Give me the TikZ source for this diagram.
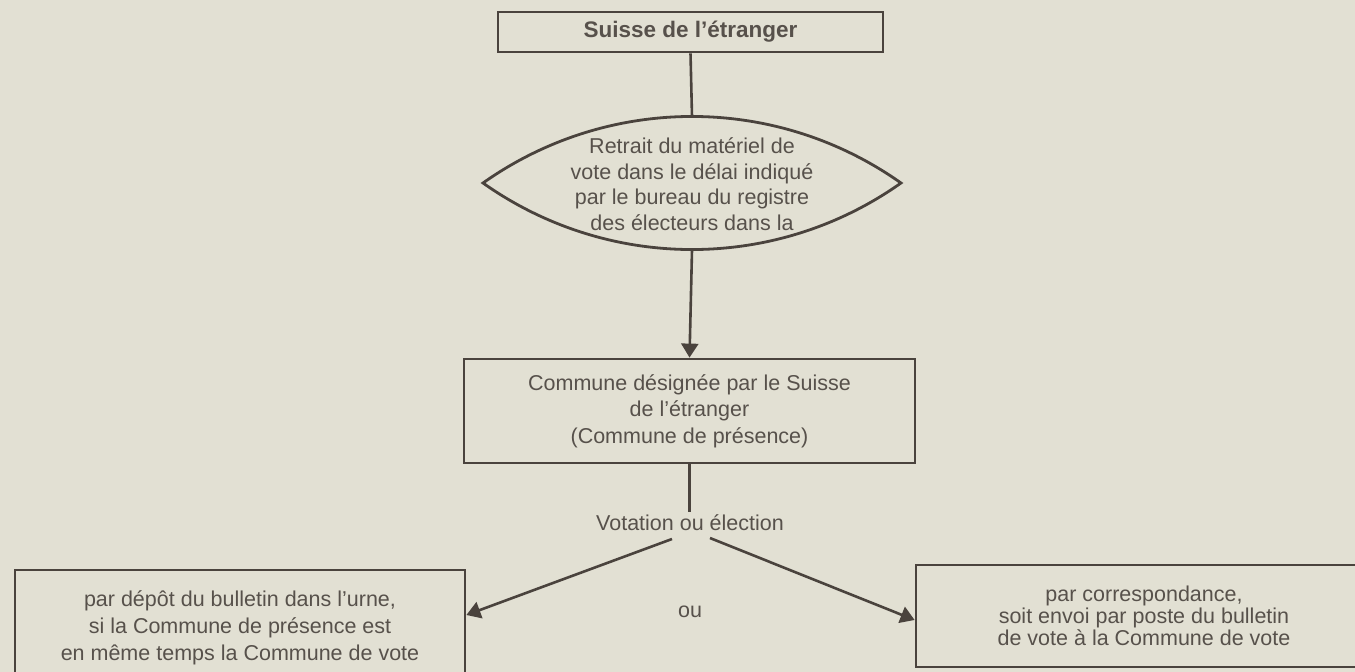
\documentclass[tikz,border=0pt]{standalone}
\usepackage{fontspec}
\setmainfont{Liberation Sans}
\usetikzlibrary{arrows.meta}
\definecolor{bgc}{HTML}{E2E0D3}
\definecolor{ink}{HTML}{4A433D}
\definecolor{txt}{HTML}{57514B}
\begin{document}
\begin{tikzpicture}[x=1pt,y=-1pt,
  box/.style={draw=ink, line width=2.8pt, rectangle, inner sep=0pt, align=center, text=txt, font=\fontsize{21.5}{26.5}\selectfont},
  conn/.style={draw=ink, line width=2.6pt},
  arr/.style={conn, -{Triangle[length=14pt,width=17pt]}},
  lbl/.style={text=txt, font=\fontsize{21.5}{25.5}\selectfont, inner sep=0pt, align=center}]
\useasboundingbox (0,0) rectangle (1355,672);
\fill[bgc] (0,0) rectangle (1355,672);

\node[box, minimum width=385pt, minimum height=40pt, font=\bfseries\fontsize{22.5}{27}\selectfont] (top) at (690.5,32) {Suisse de l’étranger};

\node[lbl] (lens) at (692,184) {Retrait du matériel de\\vote dans le délai indiqué\\par le bureau du registre\\des électeurs dans la};
\draw[ink, line width=2.8pt] (483,183) .. controls (608.3,94.3) and (775.7,94.3) .. (901,183) .. controls (775.7,271.7) and (608.3,271.7) .. cycle;
\coordinate (lenstop) at (692,116.5);
\coordinate (lensbot) at (692,250);

\node[box, minimum width=451pt, minimum height=104pt] (box2) at (689.5,411) {Commune désignée par le Suisse\\de l’étranger\\(Commune de présence)};

\node[lbl] (vote) at (690,523) {Votation ou élection};
\coordinate (votetop) at (689.5,512);

\node[box, minimum width=450pt, minimum height=116pt, font=\fontsize{21.5}{27}\selectfont] (left) at (240,628) {par dépôt du bulletin dans l’urne,\\si la Commune de présence est\\en même temps la Commune de vote};
\node[box, minimum width=456pt, minimum height=102pt, font=\fontsize{21.5}{21.7}\selectfont] (right) at (1144,616) {par correspondance,\\soit envoi par poste du bulletin\\de vote à la Commune de vote};
\node[lbl] (ou) at (690,612) {ou};

\coordinate (ls) at (672,539);
\coordinate (rs) at (710,538);

\draw[conn] (top.south) -- (lenstop);
\draw[arr] (lensbot) -- (box2.north);
\draw[conn] (box2.south) -- (votetop);
\draw[arr] (ls) -- ([yshift=13pt]left.east);
\draw[arr] (rs) -- ([yshift=-4pt]right.west);
\end{tikzpicture}
\end{document}
